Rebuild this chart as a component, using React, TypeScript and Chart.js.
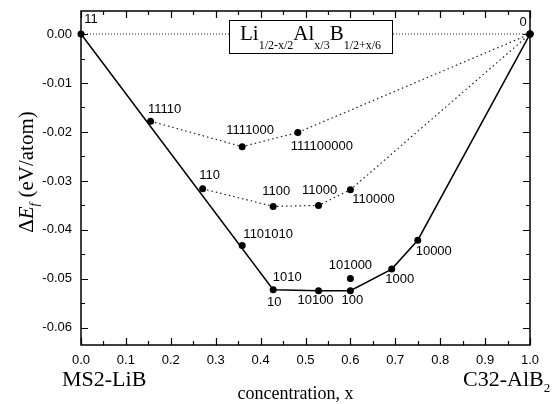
import React, { useEffect, useRef } from "react";
import { Chart, registerables } from "chart.js";

Chart.register(...registerables);

// ---- data ----
const xTicks = [0, 0.1, 0.2, 0.3, 0.4, 0.5, 0.6, 0.7, 0.8, 0.9, 1.0];
const yTicks = [0, -0.01, -0.02, -0.03, -0.04, -0.05, -0.06];

// convex hull (solid line)
const hullNames = ["11", "10|1010", "10100", "100", "1000", "10000", "0"];
const hullX = [0, 0.428, 0.529, 0.6, 0.692, 0.75, 1];
const hullY = [0, -0.0522, -0.0524, -0.0524, -0.048, -0.0421, 0];

// upper dotted chain
const upperNames = ["11110", "1111000", "111100000", ""];
const upperX = [0.155, 0.359, 0.483, 1];
const upperY = [-0.0178, -0.023, -0.0201, 0];

// middle dotted chain
const middleNames = ["110", "1100", "11000", "110000", ""];
const middleX = [0.271, 0.428, 0.529, 0.6, 1];
const middleY = [-0.0316, -0.0352, -0.035, -0.0318, 0];

// isolated structures
const isoNames = ["1101010", "101000"];
const isoX = [0.359, 0.6];
const isoY = [-0.0432, -0.0499];

// zero reference line
const zeroX = [0, 1];
const zeroY = [0, 0];

// ---- styles ----
const SANS = '"Liberation Sans", Arial, sans-serif';
const SERIF = '"Liberation Serif", "Times New Roman", serif';

const labelOffsets: Record<string, [number, number]> = {
  "11": [10, -15],
  "0": [-7, -12],
  "11110": [14, -12],
  "1111000": [8, -16],
  "111100000": [24, 14],
  "110": [7, -13],
  "1100": [3, -15],
  "11000": [1, -15],
  "110000": [23, 10],
  "1101010": [26, -11],
  "1010": [14, -12],
  "10": [1, 13],
  "10100": [-3, 10],
  "100": [2, 10],
  "101000": [0, -13],
  "1000": [8, 10],
  "10000": [16, 11],
};

const toPts = (xs: number[], ys: number[]) => xs.map((x, i) => ({ x, y: ys[i] }));

const labelSeries = [
  { names: hullNames, xs: hullX, ys: hullY },
  { names: upperNames, xs: upperX, ys: upperY },
  { names: middleNames, xs: middleX, ys: middleY },
  { names: isoNames, xs: isoX, ys: isoY },
];

const decorPlugin = {
  id: "decor",
  afterDatasetsDraw(chart: any) {
    const { ctx, chartArea: a, scales } = chart;
    const xs = scales.x;
    const ys = scales.y;
    ctx.save();

    // formula box
    const bx = a.left + 148;
    const by = a.top + 9;
    const bw = 163;
    const bh = 33;
    ctx.fillStyle = "#fff";
    ctx.fillRect(bx, by, bw, bh);
    ctx.strokeStyle = "#000";
    ctx.lineWidth = 1;
    ctx.strokeRect(bx + 0.5, by + 0.5, bw, bh);
    ctx.fillStyle = "#000";
    ctx.textAlign = "left";
    ctx.textBaseline = "alphabetic";
    let cx = bx + 11;
    const base = by + 20;
    const parts: [string, boolean][] = [
      ["Li", false],
      ["1/2-x/2", true],
      ["Al", false],
      ["x/3", true],
      ["B", false],
      ["1/2+x/6", true],
    ];
    for (const [t, sub] of parts) {
      ctx.font = sub ? `12px ${SERIF}` : `21px ${SERIF}`;
      ctx.fillText(t, cx, sub ? base + 9 : base);
      cx += ctx.measureText(t).width;
    }

    // point labels
    ctx.font = `13px ${SANS}`;
    ctx.textAlign = "center";
    ctx.textBaseline = "middle";
    for (const s of labelSeries) {
      s.names.forEach((nm, i) => {
        if (!nm) return;
        const px = xs.getPixelForValue(s.xs[i]);
        const py = ys.getPixelForValue(s.ys[i]);
        nm.split("|").forEach((n) => {
          const off = labelOffsets[n];
          if (!off) return;
          ctx.fillText(n, px + off[0], py + off[1]);
        });
      });
    }
    ctx.restore();
  },
  afterDraw(chart: any) {
    const { ctx, chartArea: a, scales } = chart;
    const xs = scales.x;
    const ys = scales.y;
    ctx.save();
    ctx.strokeStyle = "#000";
    ctx.lineWidth = 1.5;
    ctx.strokeRect(a.left, a.top, a.right - a.left, a.bottom - a.top);

    ctx.lineWidth = 1.2;
    const major = 7;
    const minor = 4;
    const xMinor: number[] = [];
    for (let i = 0; i < xTicks.length - 1; i++) xMinor.push((xTicks[i] + xTicks[i + 1]) / 2);
    const yMinor: number[] = [];
    for (let i = 0; i < yTicks.length - 1; i++) yMinor.push((yTicks[i] + yTicks[i + 1]) / 2);

    ctx.beginPath();
    const xt = (v: number, len: number) => {
      const p = Math.round(xs.getPixelForValue(v)) + 0.5;
      ctx.moveTo(p, a.bottom);
      ctx.lineTo(p, a.bottom - len);
      ctx.moveTo(p, a.top);
      ctx.lineTo(p, a.top + len);
    };
    const yt = (v: number, len: number) => {
      const p = Math.round(ys.getPixelForValue(v)) + 0.5;
      ctx.moveTo(a.left, p);
      ctx.lineTo(a.left + len, p);
      ctx.moveTo(a.right, p);
      ctx.lineTo(a.right - len, p);
    };
    xTicks.forEach((v) => xt(v, major));
    xMinor.forEach((v) => xt(v, minor));
    yTicks.forEach((v) => yt(v, major));
    yMinor.forEach((v) => yt(v, minor));
    ctx.stroke();

    // bottom texts
    ctx.fillStyle = "#000";
    ctx.textBaseline = "alphabetic";
    ctx.textAlign = "left";
    ctx.font = `22px ${SERIF}`;
    ctx.fillText("MS2-LiB", 62, 386);
    ctx.fillText("C32-AlB", 463, 386);
    const w = ctx.measureText("C32-AlB").width;
    ctx.font = `13px ${SERIF}`;
    ctx.fillText("2", 463 + w, 392);
    ctx.font = `18px ${SERIF}`;
    ctx.textAlign = "center";
    ctx.fillText("concentration, x", (a.left + a.right) / 2 - 10, 399);

    // y axis title (rotated)
    ctx.save();
    ctx.translate(33, 172);
    ctx.rotate(-Math.PI / 2);
    ctx.textAlign = "left";
    const segs: [string, string, number][] = [
      ["Δ", `21px ${SERIF}`, 0],
      ["E", `italic 21px ${SERIF}`, 0],
      ["f", `italic 13px ${SERIF}`, 5],
      [" (eV/atom)", `21px ${SERIF}`, 0],
    ];
    let total = 0;
    for (const [t, f] of segs) {
      ctx.font = f;
      total += ctx.measureText(t).width;
    }
    let sx = -total / 2;
    for (const [t, f, dy] of segs) {
      ctx.font = f;
      ctx.fillText(t, sx, dy);
      sx += ctx.measureText(t).width;
    }
    ctx.restore();
    ctx.restore();
  },
};

export default function App() {
  const ref = useRef<HTMLCanvasElement | null>(null);

  useEffect(() => {
    document.body.style.margin = "0";
    const canvas = ref.current;
    if (!canvas) return;
    const dot = {
      pointRadius: 3.5,
      pointBackgroundColor: "#000",
      pointBorderColor: "#000",
      pointBorderWidth: 0,
    };
    const chart = new Chart(canvas, {
      type: "scatter",
      data: {
        datasets: [
          {
            data: toPts(hullX, hullY),
            showLine: true,
            borderColor: "#000",
            borderWidth: 1.5,
            ...dot,
            clip: false as any,
          },
          {
            data: toPts(upperX, upperY),
            showLine: true,
            borderColor: "#222",
            borderWidth: 1.2,
            borderDash: [1.5, 3],
            ...dot,
            clip: false as any,
          },
          {
            data: toPts(middleX, middleY),
            showLine: true,
            borderColor: "#222",
            borderWidth: 1.2,
            borderDash: [1.5, 3],
            ...dot,
            clip: false as any,
          },
          {
            data: toPts(isoX, isoY),
            showLine: false,
            ...dot,
            clip: false as any,
          },
          {
            data: toPts(zeroX, zeroY),
            showLine: true,
            borderColor: "#222",
            borderWidth: 1,
            borderDash: [1, 2],
            pointRadius: 0,
            clip: false as any,
          },
        ],
      },
      options: {
        responsive: false,
        animation: false,
        layout: { padding: { top: 11, right: 23, left: 0, bottom: 0 } },
        plugins: { legend: { display: false }, tooltip: { enabled: false } },
        scales: {
          x: {
            type: "linear",
            min: 0,
            max: 1,
            grid: { display: false, drawTicks: false },
            border: { display: false },
            afterBuildTicks: (s: any) => {
              s.ticks = xTicks.map((v) => ({ value: v }));
            },
            afterFit: (s: any) => {
              s.height = 59;
              s.paddingLeft = 0;
              s.paddingRight = 0;
            },
            ticks: {
              font: { family: SANS, size: 13 },
              color: "#000",
              padding: 8,
              maxRotation: 0,
              autoSkip: false,
              callback: (v: any) => Number(v).toFixed(1),
            },
          },
          y: {
            type: "linear",
            min: -0.0635,
            max: 0.0047,
            grid: { display: false, drawTicks: false },
            border: { display: false },
            afterBuildTicks: (s: any) => {
              s.ticks = yTicks.map((v) => ({ value: v }));
            },
            afterFit: (s: any) => {
              s.width = 81;
              s.paddingTop = 0;
              s.paddingBottom = 0;
            },
            ticks: {
              font: { family: SANS, size: 13 },
              color: "#000",
              padding: 9,
              autoSkip: false,
              callback: (v: any) => Number(v).toFixed(2),
            },
          },
        },
      },
      plugins: [decorPlugin],
    });
    return () => chart.destroy();
  }, []);

  return (
    <div style={{ width: 553, height: 404 }}>
      <canvas ref={ref} width={553} height={404} style={{ display: "block" }} />
    </div>
  );
}
